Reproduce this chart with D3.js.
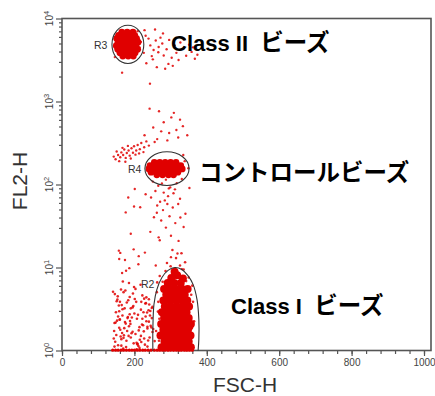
<!DOCTYPE html>
<html>
<head>
<meta charset="utf-8">
<title>FL2-H vs FSC-H</title>
<script src="https://d3js.org/d3.v7.min.js"></script>
<style>
  body { margin: 0; background: #fff; }
  .axis line { stroke: #555; stroke-width: 1.2; }
  .axis text { font-family: "Liberation Sans", Arial, sans-serif; font-size: 10px; fill: #444; }
  .frame { fill: none; stroke: #555; stroke-width: 1.6; }
  .gate { fill: none; stroke: #333; stroke-width: 1.1; }
  .gatelab { font-family: "Liberation Sans", Arial, sans-serif; font-size: 10.5px; fill: #333; }
  .title { font-family: "Liberation Sans", Arial, sans-serif; font-size: 21px; fill: #333; }
  .note { font-family: "Liberation Sans", Arial, "Noto Sans CJK JP", sans-serif; font-weight: bold; font-size: 22px; fill: #000; white-space: pre; }
  .jp { font-family: "Noto Sans CJK JP", sans-serif; font-size: 23.5px; }
  .ylab { font-family: "Liberation Sans", Arial, sans-serif; font-size: 10px; fill: #444; }
</style>
</head>
<body>
<div id="plot"></div>
<script>

// every event is [FSC-H channel, FL2-H log channel (256 per decade)]
var classIICore = [
  [165,982],[180,982],[196,982],
  [156,972],[170,972],[186,972],[201,972],
  [151,962],[164,962],[178,962],[192,962],[206,962],
  [155,951],[169,951],[184,951],[198,951],[210,951],
  [150,940],[162,940],[176,940],[190,940],[204,940],
  [154,929],[168,929],[182,929],[196,929],[209,929],
  [160,918],[175,918],[189,918],[202,918],
  [168,908],[183,908],[197,908],
  [173,957],[187,945],[160,935],[194,925],[178,968]
];
var classIIScatter = [
  [218,952],[231,971],[226,918],[244,941],[239,962],[253,927],[259,956],[251,898],
  [267,936],[272,965],[281,910],[277,947],[289,929],[296,958],[303,903],[294,884],
  [311,941],[316,918],[327,950],[322,896],[336,932],[343,909],[351,943],[358,921],
  [367,900],[362,935],[374,912],[233,886],[262,874],[285,869],[306,878],[228,988],
  [257,990],[279,978],[214,935],[209,985],[146,905],[166,857],[243,823],[338,961],
  [248,908],[266,920]
];
var controlCore = [
  [255,580],[270,580],[285,580],[300,580],[315,580],
  [243,570],[258,570],[273,570],[288,570],[303,570],[318,570],[328,570],
  [240,560],[254,560],[268,560],[282,560],[296,560],[310,560],[324,560],[332,560],
  [246,550],[260,550],[275,550],[290,550],[305,550],[320,550],
  [262,542],[278,542],[294,542],[308,542]
];
var controlScatter = [
  // doublet streak up and left of R4
  [148,590],[155,603],[151,614],[161,596],[164,611],[169,603],[172,620],[176,594],
  [179,609],[184,617],[187,601],[192,624],[196,610],[199,630],[205,617],[209,634],
  [215,621],[219,640],[227,627],[233,645],[240,632],[158,584],[167,625],[182,631],
  [203,604],[175,582],[190,592],[143,598],[213,608],[225,612],
  // above the gate
  [228,664],[252,688],[263,652],[281,704],[296,671],[309,733],[321,657],[334,692],
  [302,719],[268,738],[346,664],[256,643],[291,648],[326,712],[242,746],[316,680],
  [274,676],[339,584],[349,562],[335,603],
  // trail below the gate
  [251,521],[266,508],[287,527],[299,503],[317,516],[331,529],[258,492],[281,487],
  [293,476],[312,497],[326,468],[246,472],[271,459],[291,452],[306,441],[279,433],
  [263,447],[321,452],[297,414],[274,401],[313,393],[254,411],[287,379],[231,482],
  [341,422],[301,354],[267,349],[322,338],[244,366],[216,442],[352,501],[336,381],
  [201,498],[183,472],[284,463],[308,485],[262,425],[327,410],[295,500],[276,515],
  [161,301],[174,279],[198,312],[259,262],[301,288],[331,251],[211,266],[186,254],
  [319,299],[166,239],[176,426],[199,444],[157,308],[158,282],[229,302],[177,246],
  [212,291],[190,360],[270,340]
];
var classICore = [
  [275,10],[292,10],[309,10],[326,10],[343,10],[356,10],
  [283,28],[300,28],[317,28],[334,28],[350,28],
  [272,46],[289,46],[306,46],[323,46],[340,46],[355,46],
  [280,64],[297,64],[314,64],[331,64],[348,64],
  [274,82],[291,82],[308,82],[325,82],[342,82],[356,82],
  [282,100],[299,100],[316,100],[333,100],[350,100],
  [276,118],[293,118],[310,118],[327,118],[344,118],
  [284,136],[301,136],[318,136],[335,136],[351,136],
  [280,154],[297,154],[314,154],[331,154],[346,154],
  [288,172],[305,172],[322,172],[339,172],
  [282,190],[298,190],[315,190],[332,190],[347,190],
  [292,208],[310,208],[328,208],
  [300,55],[320,92],[290,128],[338,108],[306,162],[326,182],[296,18],[352,74],
  [302,224],[318,232],[334,222],[311,243]
];
var classIScatter = [
  // upper edge and sides of R2
  [270,230],[286,245],[300,260],[318,240],[336,250],[350,225],[305,228],[326,262],
  [290,270],[340,272],[262,180],[265,120],[260,60],[266,150],[362,150],[365,90],
  [360,200],[358,40],[268,30],[263,210],[315,285],[330,300],[305,310],[278,212],
  [343,214],[357,172],[269,98],
  // small events left of the gate
  [143,37],[187,112],[161,64],[229,18],[205,150],[152,92],[248,131],[171,47],
  [196,176],[214,8],[158,121],[236,73],[183,155],[147,27],[222,98],[199,196],
  [166,54],[241,142],[176,83],[209,21],[154,167],[231,105],[190,40],[163,188],
  [252,66],[218,126],[145,12],[201,159],[174,88],[238,31],[157,139],[226,59],
  [193,102],[168,213],[245,76],[211,14],[149,118],[184,45],[233,164],[160,96],
  [206,24],[179,148],[250,57],[141,181],[221,80],[195,133],[164,35],[243,108],
  [172,69],[217,203],[155,16],[230,145],[188,91],[203,51],[146,174],[239,124],
  [169,6],[212,62],[181,100],[256,29],[151,152],[224,78],[197,137],[162,43],
  [235,117],[175,185],[208,19],[148,86],[227,160],[192,53],[167,127],[247,71],
  [185,208],[215,33],[159,95],[232,146],[177,11],[200,114],[144,60],[222,170],
  [189,82],[170,39],[244,122],[206,4],[153,157],[236,68],[182,103],[219,26],
  [165,140],[240,89],
  [150,48],[173,130],[198,22],[219,150],[242,40],[158,70],[187,165],[210,110],
  [233,90],[164,15],[180,60],[203,190],[227,37],[248,100],[155,105],[190,130],
  [214,72],[240,158],[170,180],[195,58],[225,118],[145,85],[178,30],[207,98],
  [236,12],[160,150],[185,75],[218,45],[250,135],[167,108]
];
// events piled up in the first FL2 channel
var offScale = [
  [140,1],[148,1],[155,1],[163,1],[170,1],[178,1],[186,1],[193,1],[200,1],[208,1],
  [215,1],[223,1],[230,1],[238,1],[246,1],[255,1],[263,1],[270,1],[278,1],[285,1],
  [293,1],[300,1],[308,1],[316,1],[323,1],[330,1],[338,1],[345,1],[352,1],[360,1]
];

// gates: ellipses [FSC centre, FL2 centre, FSC radius, FL2 radius]
var gateR3 = [182, 944, 44, 59];
var gateR4 = [290, 561, 61, 52];
var gateR2 = [[251,0],[251,65],[254,142],[262,188],[276,225],[293,247],[312,256],
  [331,250],[348,231],[362,204],[373,157],[378,96],[378,34],[376,0]];

var xMajor = [0, 200, 400, 600, 800, 1000];
var decades = [1, 10, 100, 1000, 10000];

var width = 435, height = 396;

var svg = d3.select("#plot").append("svg")
  .attr("width", width)
  .attr("height", height);

var x = d3.scaleLinear().domain([0, 1000]).range([62, 424]);
var y = d3.scaleLog().domain([1, 10000]).range([350.5, 18.5]);

function py(ch) { return y(Math.pow(10, ch / 256)); }

// minor ticks
var minorY = [];
decades.slice(0, 4).forEach(function(d) {
  for (var m = 2; m < 10; m++) minorY.push(d * m);
});

var gx1 = svg.append("g").attr("class", "axis").attr("transform", "translate(0,351)")
  .call(d3.axisBottom(x).tickValues(d3.range(0, 1001, 40)).tickSize(3).tickFormat(""));
var gx2 = svg.append("g").attr("class", "axis").attr("transform", "translate(0,351)")
  .call(d3.axisBottom(x).tickValues(xMajor).tickSize(5).tickPadding(3).tickFormat(d3.format("d")));
var gy1 = svg.append("g").attr("class", "axis").attr("transform", "translate(62,0)")
  .call(d3.axisLeft(y).tickValues(minorY).tickSize(3).tickFormat(""));
var gy2 = svg.append("g").attr("class", "axis").attr("transform", "translate(62,0)")
  .call(d3.axisLeft(y).tickValues(decades).tickSize(6).tickFormat(""));
[gx1, gx2, gy1, gy2].forEach(function(g) { g.select(".domain").remove(); });

svg.selectAll(".ylab").data(decades).enter().append("text")
  .attr("class", "ylab")
  .attr("transform", function(d) { return "translate(53," + y(d) + ") rotate(-90)"; })
  .attr("text-anchor", "middle")
  .text("10")
  .append("tspan")
    .attr("dy", -4)
    .attr("font-size", "7.5px")
    .text(function(d) { return Math.round(Math.log10(d)); });

svg.append("rect").attr("class", "frame")
  .attr("x", 62).attr("y", 18.5)
  .attr("width", 369).attr("height", 332);

// events
function dots(data, r, op) {
  svg.append("g").selectAll("circle")
    .data(data)
    .enter().append("circle")
      .attr("cx", function(d) { return x(d[0]); })
      .attr("cy", function(d) { return py(d[1]); })
      .attr("r", r)
      .style("fill", "#e00000")
      .style("opacity", op);
}
dots(classIIScatter, 1.2, 0.85);
dots(controlScatter, 1.2, 0.85);
dots(classIScatter, 1.3, 0.85);
dots(offScale, 1.6, 1);
dots(classIICore, 3.4, 1);
dots(controlCore, 3.4, 1);
dots(classICore, 4, 1);

// gates
[gateR3, gateR4].forEach(function(g) {
  svg.append("ellipse").attr("class", "gate")
    .attr("cx", x(g[0]))
    .attr("cy", py(g[1]))
    .attr("rx", x(g[0] + g[2]) - x(g[0]))
    .attr("ry", py(g[1] - g[3]) - py(g[1]));
});
svg.append("path").attr("class", "gate")
  .attr("d", d3.line()
    .x(function(d) { return x(d[0]); })
    .y(function(d) { return py(d[1]); })
    .curve(d3.curveCatmullRom)(gateR2));

svg.append("text").attr("class", "gatelab").attr("x", 94).attr("y", 49).text("R3");
svg.append("text").attr("class", "gatelab").attr("x", 128).attr("y", 173).text("R4");
svg.append("text").attr("class", "gatelab").attr("x", 141).attr("y", 288).text("R2");

// axis titles
svg.append("text").attr("class", "title")
  .attr("x", 245).attr("y", 392)
  .attr("text-anchor", "middle")
  .text("FSC-H");
svg.append("text").attr("class", "title")
  .attr("transform", "translate(27,181) rotate(-90)")
  .attr("text-anchor", "middle")
  .text("FL2-H");

// bead labels
function note(xp, yp, latin, jp) {
  var t = svg.append("text").attr("class", "note").attr("x", xp).attr("y", yp);
  if (latin) t.append("tspan").text(latin);
  t.append("tspan").attr("class", "jp").text(jp);
}
note(171, 51, "Class II  ", "ビーズ");
note(199, 181, "", "コントロールビーズ");
note(231, 314, "Class I  ", "ビーズ");

</script>
</body>
</html>
